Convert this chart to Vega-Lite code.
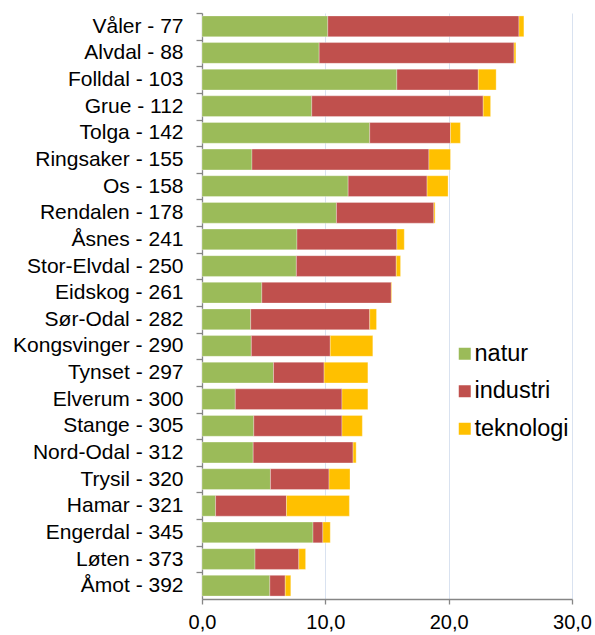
{
  "$schema": "https://vega.github.io/schema/vega-lite/v6.json",
  "autosize": {"type": "none"},
  "padding": {"left": 202, "top": 13, "right": 23, "bottom": 36},
  "width": 370,
  "height": 586,
  "background": "white",
  "config": {
    "view": {"stroke": null},
    "font": "Liberation Sans"
  },
  "data": {
    "values": [
      {"kommune": "Våler - 77", "natur": 10.2, "industri": 15.5, "teknologi": 0.4},
      {"kommune": "Alvdal - 88", "natur": 9.5, "industri": 15.8, "teknologi": 0.15},
      {"kommune": "Folldal - 103", "natur": 15.8, "industri": 6.6, "teknologi": 1.45},
      {"kommune": "Grue - 112", "natur": 8.9, "industri": 13.9, "teknologi": 0.6},
      {"kommune": "Tolga - 142", "natur": 13.6, "industri": 6.55, "teknologi": 0.8},
      {"kommune": "Ringsaker - 155", "natur": 4.05, "industri": 14.35, "teknologi": 1.75},
      {"kommune": "Os - 158", "natur": 11.85, "industri": 6.4, "teknologi": 1.7},
      {"kommune": "Rendalen - 178", "natur": 10.9, "industri": 7.9, "teknologi": 0.1},
      {"kommune": "Åsnes - 241", "natur": 7.7, "industri": 8.1, "teknologi": 0.6},
      {"kommune": "Stor-Elvdal - 250", "natur": 7.65, "industri": 8.1, "teknologi": 0.35},
      {"kommune": "Eidskog - 261", "natur": 4.85, "industri": 10.5, "teknologi": 0.05},
      {"kommune": "Sør-Odal - 282", "natur": 3.95, "industri": 9.65, "teknologi": 0.55},
      {"kommune": "Kongsvinger - 290", "natur": 4.0, "industri": 6.4, "teknologi": 3.45},
      {"kommune": "Tynset - 297", "natur": 5.8, "industri": 4.1, "teknologi": 3.55},
      {"kommune": "Elverum - 300", "natur": 2.7, "industri": 8.65, "teknologi": 2.1},
      {"kommune": "Stange - 305", "natur": 4.2, "industri": 7.15, "teknologi": 1.65},
      {"kommune": "Nord-Odal - 312", "natur": 4.15, "industri": 8.1, "teknologi": 0.25},
      {"kommune": "Trysil - 320", "natur": 5.55, "industri": 4.75, "teknologi": 1.7},
      {"kommune": "Hamar - 321", "natur": 1.1, "industri": 5.75, "teknologi": 5.1},
      {"kommune": "Engerdal - 345", "natur": 9.0, "industri": 0.8, "teknologi": 0.6},
      {"kommune": "Løten - 373", "natur": 4.3, "industri": 3.55, "teknologi": 0.55},
      {"kommune": "Åmot - 392", "natur": 5.5, "industri": 1.25, "teknologi": 0.45}
    ]
  },
  "transform": [
    {"fold": ["natur", "industri", "teknologi"], "as": ["kategori", "verdi"]},
    {"window": [{"op": "row_number", "as": "rekkefolge"}], "groupby": ["kommune"]}
  ],
  "mark": {"type": "bar", "stroke": "white", "strokeWidth": 0.5, "strokeOpacity": 0.6},
  "encoding": {
    "y": {
      "field": "kommune",
      "type": "nominal",
      "sort": null,
      "scale": {"paddingInner": 0.22, "paddingOuter": 0.11},
      "axis": {
        "title": null,
        "domainColor": "#868686",
        "domainWidth": 1.3,
        "tickColor": "#868686",
        "tickWidth": 1.3,
        "tickSize": 6,
        "tickOffset": -13.32,
        "labelOffset": 13.32,
        "labelPadding": 13,
        "labelFontSize": 21,
        "labelColor": "#000000",
        "labelFont": "Liberation Sans"
      }
    },
    "x": {
      "field": "verdi",
      "type": "quantitative",
      "stack": "zero",
      "scale": {"domain": [0, 30], "nice": false},
      "axis": {
        "title": null,
        "values": [0, 10, 20, 30],
        "labelExpr": "replace(format(datum.value, '.1f'), '.', ',')",
        "labelFlush": false,
        "labelOverlap": false,
        "grid": true,
        "gridColor": "#D9E2F0",
        "gridWidth": 1,
        "domainColor": "#868686",
        "domainWidth": 1.3,
        "tickColor": "#868686",
        "tickWidth": 1.3,
        "tickSize": 5,
        "labelPadding": 8,
        "labelFontSize": 20,
        "labelColor": "#000000",
        "labelFont": "Liberation Sans"
      }
    },
    "order": {"field": "rekkefolge", "type": "quantitative"},
    "color": {
      "field": "kategori",
      "type": "nominal",
      "sort": ["natur", "industri", "teknologi"],
      "scale": {"domain": ["natur", "industri", "teknologi"], "range": ["#9BBB59", "#C0504D", "#FFC000"]},
      "legend": {
        "title": null,
        "orient": "none",
        "legendX": 251,
        "legendY": 329,
        "padding": 0,
        "symbolType": "square",
        "symbolSize": 144,
        "symbolStrokeWidth": 0,
        "labelFontSize": 23.5,
        "labelFont": "Liberation Sans",
        "labelColor": "#000000",
        "labelOffset": -2,
        "rowPadding": 12.5
      }
    }
  }
}
